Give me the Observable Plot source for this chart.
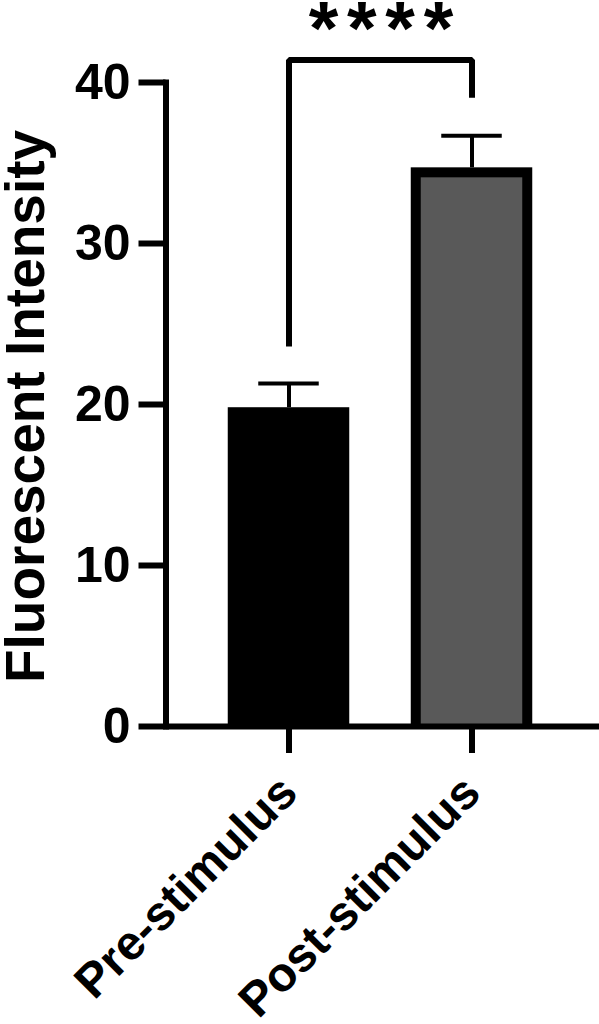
<!DOCTYPE html>
<html>
<head>
<meta charset="utf-8">
<script src="https://cdn.jsdelivr.net/npm/d3@7"></script>
<script src="https://cdn.jsdelivr.net/npm/@observablehq/plot@0.6"></script>
<style>
  html, body { margin: 0; padding: 0; background: #ffffff; }
  #chart svg { display: block; }
</style>
</head>
<body>
<div id="chart"></div>
<script>
const categories = ["Pre-stimulus", "Post-stimulus"];
const means = [19.8, 34.7];
const sems = [1.5, 2.0];
const fills = ["#000000", "#595959"];
const yTicks = [0, 10, 20, 30, 40];
const yLabel = "Fluorescent Intensity";
const bracketX = ["Pre-stimulus", "Pre-stimulus", "Post-stimulus", "Post-stimulus"];
const bracketY = [23.6, 41.4, 41.4, 39.05];
const sigLabel = "****";
const sigY = 44.0;

const data = categories.map((c, i) => ({cat: c, mean: means[i], top: means[i] + sems[i], fill: fills[i]}));
const bracket = bracketX.map((c, i) => ({cat: c, y: bracketY[i]}));

const font = "'Liberation Sans', Arial, Helvetica, sans-serif";

const chart = Plot.plot({
  width: 599,
  height: 1024,
  marginLeft: 165.5,
  marginRight: 0,
  marginTop: 82,
  marginBottom: 298,
  style: {fontFamily: font, background: "#ffffff", color: "#000"},
  x: {domain: categories, range: [196.25, 563.25], padding: 0, axis: null},
  y: {domain: [0, 40], axis: null},
  marks: [
    // error bars (drawn under bars)
    Plot.ruleX(data, {x: "cat", y1: "mean", y2: "top", stroke: "#000", strokeWidth: 4}),
    Plot.tickY(data, {x: "cat", y: "top", stroke: "#000", strokeWidth: 4, insetLeft: 61.25, insetRight: 61.25}),
    // bars: black outline layer, then fill layer
    Plot.barY(data, {x: "cat", y: "mean", fill: "#000", insetLeft: 30.75, insetRight: 30.75}),
    Plot.barY(data, {x: "cat", y: "mean", fill: "fill", insetLeft: 40.75, insetRight: 40.75, insetTop: 10}),
    // axes lines
    Plot.frame({anchor: "left", stroke: "#000", strokeWidth: 6, strokeLinecap: "square"}),
    Plot.ruleY([0], {stroke: "#000", strokeWidth: 6}),
    Plot.axisY({ticks: yTicks, tickSize: 27, tickPadding: 8.5, fontSize: 50, fontWeight: "bold",
      stroke: "#000", strokeWidth: 6, label: null, tickFormat: d => String(d)}),
    Plot.axisX({tickSize: 27, tickPadding: 31, tickRotate: -45, fontSize: 48, fontWeight: "bold",
      stroke: "#000", strokeWidth: 6, label: null}),
    Plot.text([yLabel], {frameAnchor: "left", textAnchor: "middle", rotate: -90, dx: -140, dy: 2,
      fontSize: 55, fontWeight: "bold", fill: "#000"}),
    // significance bracket
    Plot.line(bracket, {x: "cat", y: "y", stroke: "#000", strokeWidth: 6, strokeLinejoin: "miter", strokeLinecap: "butt"}),
    Plot.text([sigLabel], {y: [sigY], text: d => d, fontSize: 76, fontWeight: "bold", fill: "#000",
      dx: 2.6, dy: 11.7})
  ]
});

// widen the spacing between the significance asterisks
d3.select(chart).selectAll("text")
  .filter(function () { return this.textContent === sigLabel; })
  .attr("letter-spacing", 8.7);

document.getElementById("chart").appendChild(chart);
</script>
</body>
</html>
